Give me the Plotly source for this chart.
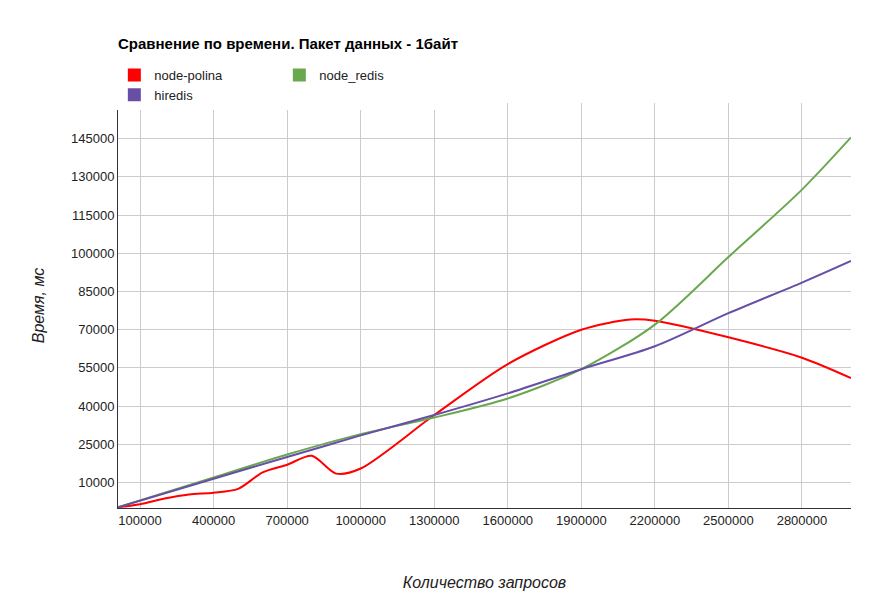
import plotly.graph_objects as go

red_x = [10000,100000,200000,300000,400000,500000,600000,700000,800000,900000,1000000,1300000,1600000,1900000,2100000,2200000,2500000,2800000,3000000]
red_y = [300,1500,3700,5300,6000,7500,14000,17000,20500,13500,15500,36500,56500,70000,74000,73500,67000,59000,51000]
green_x = [10000,400000,700000,1000000,1300000,1600000,1900000,2200000,2500000,2800000,3000000]
green_y = [300,12000,21000,29000,35500,43000,54500,72000,98500,125000,145500]
purple_x = [10000,400000,700000,1000000,1300000,1600000,1900000,2200000,2500000,2800000,3000000]
purple_y = [300,11500,20000,28500,36500,45000,54500,63500,76500,88500,97000]
names = ["node-polina", "node_redis", "hiredis"]
colors = ["#ff0000", "#6aa84f", "#674ea7"]
x_ticks = list(range(100000, 2800001, 300000))
y_ticks = list(range(10000, 145001, 15000))

fig = go.Figure()
for (xs, ys), n, c in zip([(red_x, red_y), (green_x, green_y), (purple_x, purple_y)], names, colors):
    fig.add_trace(go.Scatter(x=xs, y=ys, mode="lines", line=dict(color=c, width=2, shape="spline", smoothing=0.8),
                             showlegend=False, name=n))
for n, c in zip(names, colors):
    fig.add_trace(go.Scatter(x=[None], y=[None], mode="markers", name=n,
                             marker=dict(symbol="square", size=13, color=c)))

fig.update_layout(
    width=870, height=600, plot_bgcolor="white", paper_bgcolor="white",
    font=dict(family="Liberation Sans, Arial", size=13, color="#222"),
    margin=dict(l=110, r=27, t=95, b=100, autoexpand=False),
    title=dict(text="<b>Сравнение по времени. Пакет данных - 1байт</b>", x=110/870, xanchor="left",
               yref="container", y=1-30/600, yanchor="top", font=dict(size=15, color="black")),
    legend=dict(orientation="h", x=-0.005, y=1-52/600, xref="paper", yref="container",
                xanchor="left", yanchor="top", font=dict(size=13), entrywidth=120, entrywidthmode="pixels"),
    xaxis=dict(range=[10000, 3000000], tickvals=x_ticks, ticktext=[str(v) for v in x_ticks],
               showgrid=True, gridcolor="#cccccc", automargin=False,
               showline=True, linecolor="#333", ticks="", zeroline=False,
               title=dict(text="<i>Количество запросов</i>", standoff=50)),
    yaxis=dict(range=[0, 159000], tickvals=y_ticks, ticktext=[str(v) for v in y_ticks],
               showgrid=True, gridcolor="#cccccc", automargin=False,
               showline=True, linecolor="#333", zeroline=False,
               title=dict(text="<i>Время, мс</i>", standoff=22)),
)
fig.write_html("out.html")
